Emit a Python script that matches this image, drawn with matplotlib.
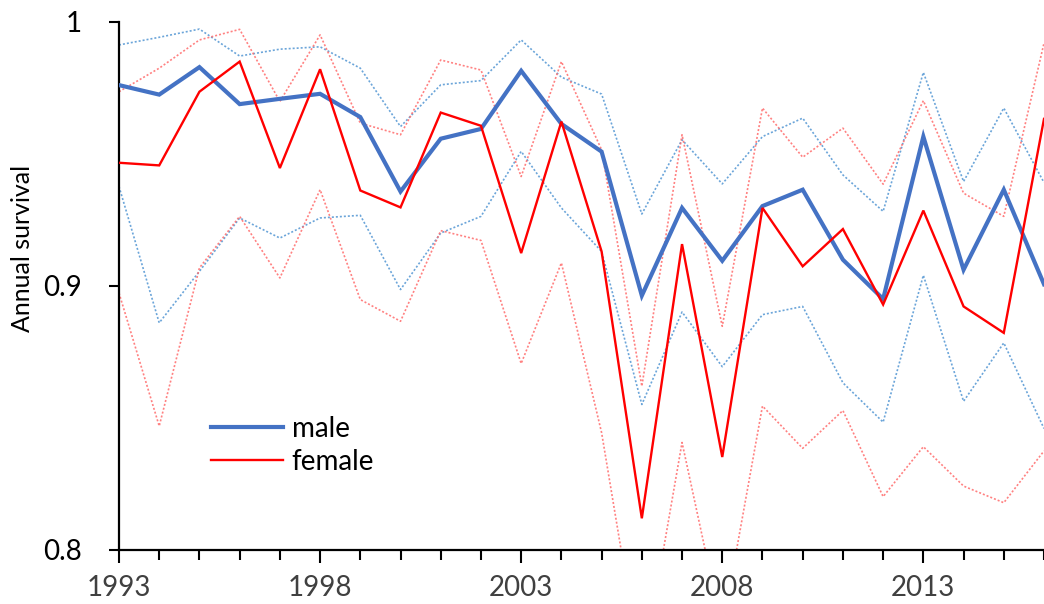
import matplotlib
matplotlib.use("Agg")
import matplotlib.pyplot as plt

years = list(range(1993, 2017))

male = [0.976, 0.9724, 0.9828, 0.9688, 0.9708, 0.9727, 0.9639, 0.9357, 0.9557, 0.9594,
        0.9814, 0.9613, 0.9508, 0.8963, 0.9295, 0.9095, 0.9302, 0.9364, 0.9099, 0.8950,
        0.9565, 0.9061, 0.9364, 0.9006]
male_upper = [0.9912, 0.9941, 0.9972, 0.9870, 0.9896, 0.9905, 0.9824, 0.9603, 0.9761, 0.9777,
              0.9931, 0.9790, 0.9726, 0.9272, 0.9553, 0.9386, 0.9565, 0.9635, 0.9420, 0.9282,
              0.9808, 0.9395, 0.9673, 0.9391]
male_lower = [0.9376, 0.8860, 0.9055, 0.9257, 0.9181, 0.9257, 0.9267, 0.8986, 0.9200, 0.9263,
              0.9509, 0.9295, 0.9130, 0.8551, 0.8901, 0.8694, 0.8891, 0.8922, 0.8633, 0.8484,
              0.9040, 0.8563, 0.8784, 0.8460]

female = [0.9466, 0.9456, 0.9735, 0.9849, 0.9446, 0.9820, 0.9361, 0.9297, 0.9656, 0.9606,
          0.9124, 0.9622, 0.9130, 0.8120, 0.9158, 0.8352, 0.9295, 0.9074, 0.9215, 0.8929,
          0.9285, 0.8922, 0.8822, 0.9632]
female_upper = [0.9735, 0.9824, 0.9931, 0.9971, 0.9698, 0.9950, 0.9616, 0.9572, 0.9855, 0.9817,
                0.9414, 0.9849, 0.9515, 0.8620, 0.9572, 0.8847, 0.9673, 0.9487, 0.9597, 0.9385,
                0.9701, 0.9351, 0.9263, 0.9919]
female_lower = [0.8973, 0.8469, 0.9068, 0.9263, 0.9030, 0.9364, 0.8948, 0.8866, 0.9209, 0.9172,
                0.8706, 0.9087, 0.8444, 0.7530, 0.8407, 0.7700, 0.8545, 0.8385, 0.8528, 0.8202,
                0.8391, 0.8242, 0.8179, 0.8375]

xtick_years = [1993, 1998, 2003, 2008, 2013]
ytick_vals = [0.8, 0.9, 1.0]
ytick_labels = ["0.8", "0.9", "1"]

plt.rcParams['font.family'] = ['Lato', 'DejaVu Sans']

fig = plt.figure(figsize=(10.44, 6.04), dpi=100)
ax = fig.add_axes([119 / 1044, 54 / 604, (1044 - 119) / 1044, (550 - 21.7) / 604])

dot = (0, (1.2, 1.2))
blue_ci = '#5B9BD5'
red_ci = '#FF6B6B'
ax.plot(years, male_upper, color=blue_ci, lw=1.2, ls=dot, alpha=0.9, zorder=2)
ax.plot(years, male_lower, color=blue_ci, lw=1.2, ls=dot, alpha=0.9, zorder=2)
ax.plot(years, female_upper, color=red_ci, lw=1.2, ls=dot, alpha=0.85, zorder=2)
ax.plot(years, female_lower, color=red_ci, lw=1.2, ls=dot, alpha=0.85, zorder=2)
ax.plot(years, male, color='#4472C4', lw=3.0, label='male', zorder=3, solid_joinstyle='miter')
ax.plot(years, female, color='#FF0000', lw=1.7, label='female', zorder=4, solid_joinstyle='miter')

ax.set_xlim(1993, 1993 + (1044 - 119) / 40.68)
ax.set_ylim(0.8, 1.0)

for s in ['top', 'right']:
    ax.spines[s].set_visible(False)
for s in ['left', 'bottom']:
    ax.spines[s].set_linewidth(1.6)
    ax.spines[s].set_color('black')

ax.set_xticks(xtick_years)
ax.set_xticklabels([str(y) for y in xtick_years])
ax.set_xticks(years, minor=True)
ax.tick_params(axis='x', which='major', length=9, width=1.5, pad=9, labelsize=20, labelcolor='#404040')
ax.tick_params(axis='x', which='minor', length=7, width=1.5)
ax.set_yticks(ytick_vals)
ax.set_yticklabels(ytick_labels)
ax.tick_params(axis='y', which='major', length=7, width=1.5, pad=20, labelsize=20, labelcolor='black')

fig.text(23 / 1044, 1 - 248 / 604, 'Annual survival', rotation=90, ha='center', va='center',
         fontsize=18, color='black')

leg = ax.legend(loc='center left', bbox_to_anchor=(211 / 1044, 1 - 445.5 / 604),
                bbox_transform=fig.transFigure, frameon=False, fontsize=20,
                handlelength=2.6, handletextpad=0.3, labelspacing=0.25,
                borderpad=0, borderaxespad=0)

fig.savefig('out.png', dpi=100)
